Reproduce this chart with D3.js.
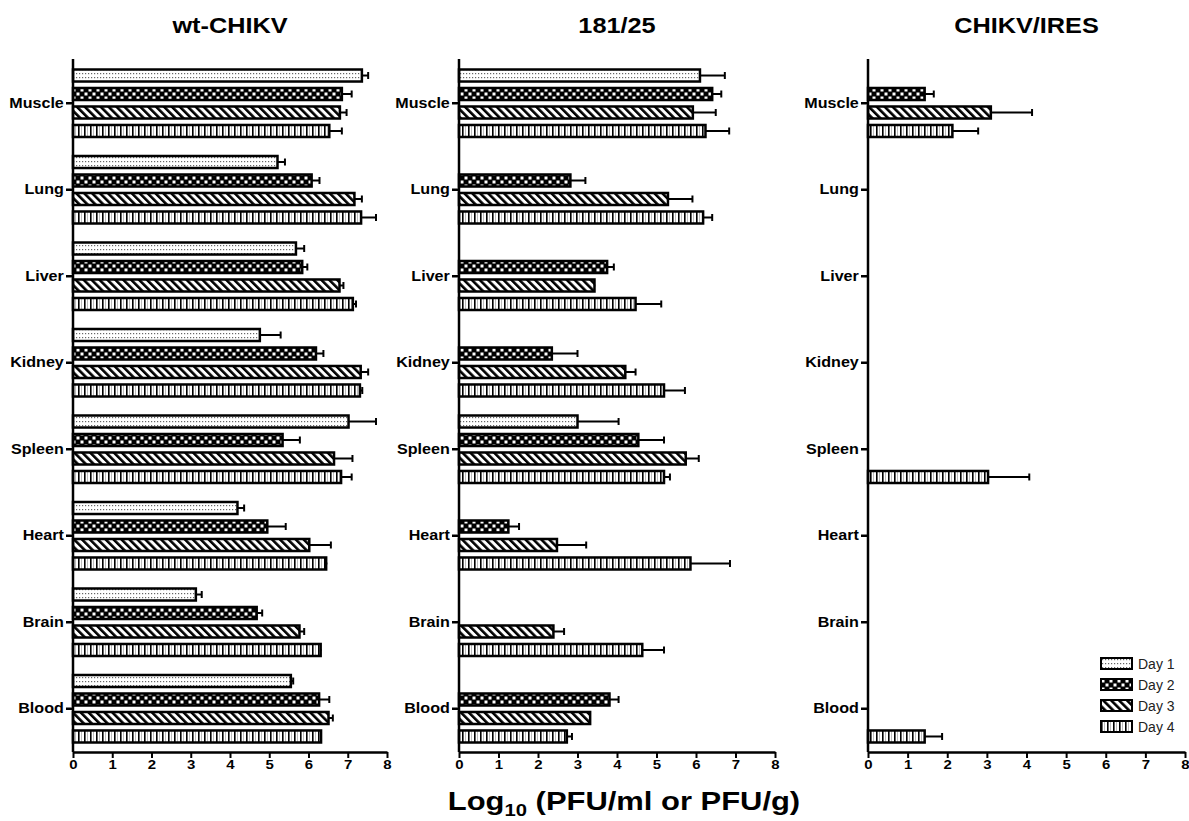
<!DOCTYPE html>
<html>
  <head>
    <meta charset="utf-8">
    <title>CHIKV tissue titers</title>
    <style>
      body { margin: 0; background: #fff; }
      svg text { font-family: "Liberation Sans", Arial, sans-serif; }
    </style>
  </head>
  <body>
    <div id="vis"></div>
    <script src="https://d3js.org/d3.v7.min.js"></script>
    <script>
    // organs, top to bottom
    let organs = ["Muscle", "Lung", "Liver", "Kidney", "Spleen", "Heart", "Brain", "Blood"];
    let days = ["Day 1", "Day 2", "Day 3", "Day 4"];
    let xTicks = [0, 1, 2, 3, 4, 5, 6, 7, 8];

    // mean log10 titer per organ, one value per day (null = not detected)
    let wtMean = [
      [7.36, 6.85, 6.80, 6.53],
      [5.21, 6.08, 7.17, 7.34],
      [5.68, 5.84, 6.79, 7.13],
      [4.76, 6.19, 7.33, 7.31],
      [7.02, 5.34, 6.65, 6.83],
      [4.19, 4.95, 6.02, 6.45],
      [3.13, 4.68, 5.77, 6.31],
      [5.55, 6.27, 6.51, 6.32]
    ];
    let wtErr = [
      [0.16, 0.25, 0.17, 0.32],
      [0.19, 0.20, 0.19, 0.38],
      [0.21, 0.13, 0.10, 0.08],
      [0.53, 0.19, 0.19, 0.06],
      [0.70, 0.44, 0.47, 0.27],
      [0.17, 0.47, 0.55, 0.03],
      [0.15, 0.14, 0.12, 0.02],
      [0.06, 0.26, 0.11, 0.02]
    ];
    let atMean = [
      [6.10, 6.41, 5.92, 6.24],
      [null, 2.82, 5.29, 6.18],
      [null, 3.75, 3.43, 4.47],
      [null, 2.35, 4.21, 5.19],
      [3.00, 4.54, 5.74, 5.19],
      [null, 1.25, 2.48, 5.86],
      [null, null, 2.39, 4.64],
      [null, 3.81, 3.32, 2.73]
    ];
    let atErr = [
      [0.63, 0.23, 0.58, 0.60],
      [null, 0.38, 0.62, 0.23],
      [null, 0.17, 0.02, 0.65],
      [null, 0.65, 0.26, 0.53],
      [1.04, 0.65, 0.33, 0.15],
      [null, 0.27, 0.74, 1.00],
      [null, null, 0.27, 0.55],
      [null, 0.23, 0.00, 0.13]
    ];
    let iresMean = [
      [null, 1.43, 3.10, 2.13],
      [null, null, null, null],
      [null, null, null, null],
      [null, null, null, null],
      [null, null, null, 3.03],
      [null, null, null, null],
      [null, null, null, null],
      [null, null, null, 1.43]
    ];
    let iresErr = [
      [null, 0.23, 1.04, 0.65],
      [null, null, null, null],
      [null, null, null, null],
      [null, null, null, null],
      [null, null, null, 1.04],
      [null, null, null, null],
      [null, null, null, null],
      [null, null, null, 0.44]
    ];

    let panels = [
      {title: "wt-CHIKV", mean: wtMean, err: wtErr, x0: 73, x1: 387},
      {title: "181/25", mean: atMean, err: atErr, x0: 459, x1: 775},
      {title: "CHIKV/IRES", mean: iresMean, err: iresErr, x0: 868, x1: 1185}
    ];

    let w = 1189, h = 821;
    let axisTop = 59, axisBottom = 752;
    let stretch = 1.15; // the source figure is a bit wider than tall

    let svg = d3.select("#vis").append("svg")
                .attr("width", w)
                .attr("height", h);

    // fill patterns for the four days
    let defs = svg.append("defs");
    let p1 = defs.append("pattern").attr("id", "pat0")
                 .attr("patternUnits", "userSpaceOnUse")
                 .attr("width", 3).attr("height", 4);
    p1.append("rect").attr("width", 3).attr("height", 4).attr("fill", "#fff");
    p1.append("rect").attr("x", 1).attr("y", 1).attr("width", 1.2).attr("height", 1.2).attr("fill", "#666");

    let p2 = defs.append("pattern").attr("id", "pat1")
                 .attr("patternUnits", "userSpaceOnUse")
                 .attr("width", 8).attr("height", 8);
    p2.append("rect").attr("width", 8).attr("height", 8).attr("fill", "#000");
    p2.append("rect").attr("x", 0.5).attr("y", 0.5).attr("width", 3).attr("height", 3).attr("fill", "#fff");
    p2.append("rect").attr("x", 4.5).attr("y", 4.5).attr("width", 3).attr("height", 3).attr("fill", "#fff");

    let p3 = defs.append("pattern").attr("id", "pat2")
                 .attr("patternUnits", "userSpaceOnUse")
                 .attr("width", 5.6).attr("height", 10)
                 .attr("patternTransform", "rotate(-45)");
    p3.append("rect").attr("width", 5.6).attr("height", 10).attr("fill", "#fff");
    p3.append("rect").attr("width", 2.6).attr("height", 10).attr("fill", "#000");

    let p4 = defs.append("pattern").attr("id", "pat3")
                 .attr("patternUnits", "userSpaceOnUse")
                 .attr("width", 6).attr("height", 6);
    p4.append("rect").attr("width", 6).attr("height", 6).attr("fill", "#fff");
    p4.append("rect").attr("x", 0).attr("width", 1.6).attr("height", 6).attr("fill", "#000");
    p4.append("rect").attr("x", 3.2).attr("width", 0.8).attr("height", 6).attr("fill", "#aaa");

    let y0 = d3.scaleBand().domain(organs).range([60, axisBottom]);
    let y1 = d3.scaleBand().domain(days).range([-33.75, 33.75]).paddingInner(0.35);

    panels.forEach(function(p) {
      let x = d3.scaleLinear().domain([0, 8]).range([p.x0, p.x1]);
      let g = svg.append("g");

      g.append("g")
        .attr("transform", "translate(" + (p.x0 + p.x1) / 2 + ",33) scale(" + stretch + ",1)")
        .append("text")
        .attr("text-anchor", "middle")
        .style("font-size", "22px")
        .style("font-weight", "bold")
        .text(p.title);

      let rows = [];
      organs.forEach(function(o, i) {
        days.forEach(function(d, j) {
          if (p.mean[i][j] != null) {
            rows.push({organ: o, day: d, j: j, v: p.mean[i][j], e: p.err[i][j] || 0});
          }
        });
      });

      let cy = function(d) { return y0(d.organ) + y0.bandwidth() / 2 + y1(d.day) + y1.bandwidth() / 2; };

      // error bars (right side only)
      g.selectAll(".eb").data(rows).enter().append("line")
        .attr("x1", function(d) { return x(d.v); })
        .attr("x2", function(d) { return x(d.v + d.e); })
        .attr("y1", cy).attr("y2", cy)
        .style("stroke", "#000").style("stroke-width", 2);
      g.selectAll(".cap").data(rows.filter(function(d) { return d.e > 0.03; })).enter().append("line")
        .attr("x1", function(d) { return x(d.v + d.e); })
        .attr("x2", function(d) { return x(d.v + d.e); })
        .attr("y1", function(d) { return cy(d) - 3.5; })
        .attr("y2", function(d) { return cy(d) + 3.5; })
        .style("stroke", "#000").style("stroke-width", 2);

      g.selectAll(".bar").data(rows).enter().append("rect")
        .attr("x", x(0))
        .attr("y", function(d) { return y0(d.organ) + y0.bandwidth() / 2 + y1(d.day); })
        .attr("width", function(d) { return x(d.v) - x(0); })
        .attr("height", y1.bandwidth())
        .attr("fill", function(d) { return "url(#pat" + d.j + ")"; })
        .style("stroke", "#000")
        .style("stroke-width", 2.5);

      // axes
      let xAxis = d3.axisBottom(x).tickValues(xTicks).tickSize(6).tickSizeOuter(0).tickPadding(2);
      let ax = g.append("g").attr("transform", "translate(0," + axisBottom + ")").call(xAxis);
      ax.select(".domain").style("stroke-width", 2.5);
      ax.selectAll(".tick line").style("stroke-width", 2);
      ax.selectAll("text")
        .attr("transform", "scale(" + stretch + ",1)")
        .style("font-size", "13px").style("font-weight", "bold").attr("fill", "#000");

      let ay = g.append("g").attr("transform", "translate(" + x(0) + ",0)")
                .call(d3.axisLeft(y0).tickSize(7).tickSizeOuter(0).tickPadding(1));
      ay.select(".domain").attr("d", "M0," + axisTop + "V" + axisBottom).style("stroke-width", 2.5);
      ay.selectAll(".tick line").style("stroke-width", 2.5);
      ay.selectAll("text")
        .attr("transform", "scale(" + stretch + ",1)")
        .style("font-size", "14px").style("font-weight", "bold").attr("fill", "#000");
    });

    // legend in the last panel
    let legend = svg.append("g").attr("transform", "translate(1101,658)");
    days.forEach(function(d, j) {
      let r = legend.append("g").attr("transform", "translate(0," + j * 21 + ")");
      r.append("rect").attr("width", 31).attr("height", 11)
        .attr("fill", "url(#pat" + j + ")")
        .style("stroke", "#000").style("stroke-width", 2);
      r.append("text").attr("x", 37).attr("y", 10.5)
        .style("font-size", "14px").attr("fill", "#222")
        .text(d);
    });

    // shared x title
    let title = svg.append("g")
      .attr("transform", "translate(624,810) scale(1.19,1)")
      .append("text")
      .attr("text-anchor", "middle")
      .style("font-size", "26px")
      .style("font-weight", "bold");
    title.append("tspan").text("Log");
    title.append("tspan").attr("dy", 6).style("font-size", "17px").text("10");
    title.append("tspan").attr("dy", -6).text(" (PFU/ml or PFU/g)");
    </script>
  </body>
</html>
